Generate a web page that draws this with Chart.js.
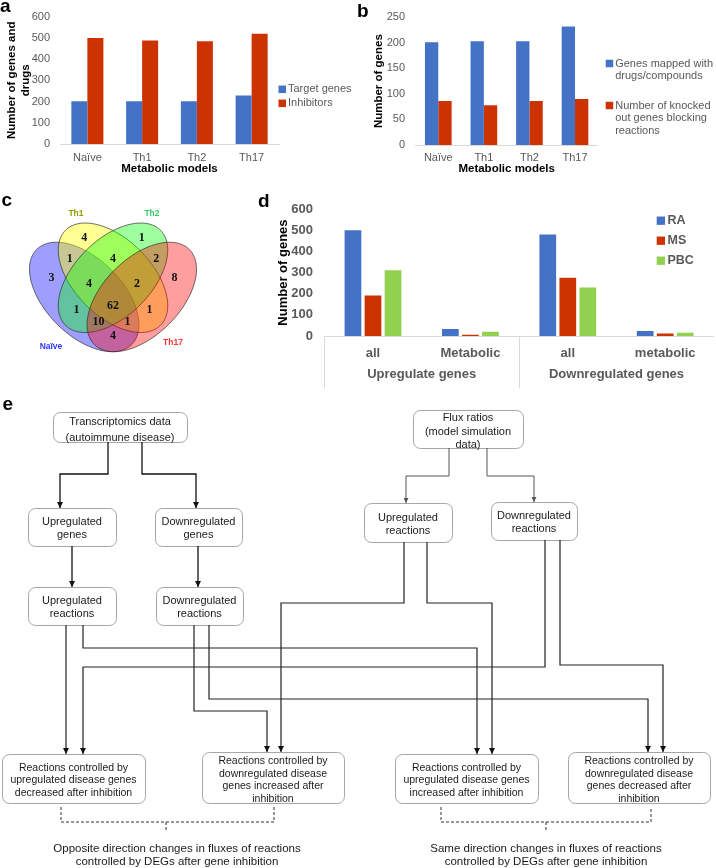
<!DOCTYPE html>
<html>
<head>
<meta charset="utf-8">
<script src="https://cdn.jsdelivr.net/npm/chart.js@4.4.1/dist/chart.umd.min.js"></script>
<style>
  html, body { margin: 0; padding: 0; background: #fff; }
  body { width: 716px; height: 868px; position: relative; overflow: hidden; font-family: Arial, 'Liberation Sans', sans-serif; }
  .pane { position: absolute; }
  .pane canvas { display: block; }
  #fig { position: absolute; left: 0; top: 0; pointer-events: none; }
</style>
</head>
<body>
<div class="pane" style="left:0;top:0"><canvas id="chA" width="360" height="185"></canvas></div>
<div class="pane" style="left:355px;top:0"><canvas id="chB" width="361" height="185"></canvas></div>
<div class="pane" style="left:0;top:190px"><canvas id="chC" width="235" height="180"></canvas></div>
<div class="pane" style="left:235px;top:190px"><canvas id="chD" width="481" height="202"></canvas></div>
<svg id="fig" width="716" height="868" xmlns="http://www.w3.org/2000/svg">
  <defs>
    <marker id="arK" viewBox="0 0 10 10" refX="10" refY="5" markerUnits="userSpaceOnUse" markerWidth="6" markerHeight="6" orient="auto">
      <path d="M0,0 L10,5 L0,10 z" fill="#111"/>
    </marker>
    <marker id="arG" viewBox="0 0 10 10" refX="10" refY="5" markerUnits="userSpaceOnUse" markerWidth="5" markerHeight="5" orient="auto">
      <path d="M0,0 L10,5 L0,10 z" fill="#555"/>
    </marker>
  </defs>
</svg>
<script>
// ---- data ----
const models = ['Naïve', 'Th1', 'Th2', 'Th17'];
const targetGenes = [201, 201, 201, 228];
const inhibitors = [499, 487, 484, 519];
const mappedGenes = [201, 203, 203, 232];
const knockedOut = [86, 78, 86, 90];

const degTypes = ['all', 'Metabolic', 'all', 'metabolic'];
const degGroups = ['Upregulate genes', 'Downregulated genes'];
const raGenes = [500, 33, 480, 24];
const msGenes = [191, 6, 276, 12];
const pbcGenes = [311, 20, 229, 15];

const vennSets = ['Naïve', 'Th1', 'Th2', 'Th17'];
const vennSetX = [0.177, 0.307, 0.703, 0.8125];
const vennSetY = [0.209, 0.902, 0.902, 0.23];
const vennCounts = [4, 1, 1, 4, 2, 3, 4, 2, 8, 62, 1, 1, 10, 1, 4];
const vennX = [0.35, 0.65, 0.275, 0.5, 0.725, 0.18, 0.375, 0.625, 0.82, 0.5, 0.31, 0.69, 0.425, 0.575, 0.5];
const vennY = [0.78, 0.78, 0.67, 0.67, 0.67, 0.57, 0.54, 0.54, 0.57, 0.425, 0.40, 0.40, 0.34, 0.34, 0.265];

const BLUE = '#4472c4', RED = '#cc3300', GREEN = '#92d050', GREY = '#595959';
const FONT = "Arial, 'Liberation Sans', sans-serif";
Chart.defaults.font.family = FONT;
Chart.defaults.animation = false;

/* legend squares + (multi-line) labels at fixed spots, like the Excel originals */
const boxLegend = {
  id: 'boxLegend',
  afterDraw(chart, args, o) {
    const ctx = chart.ctx;
    ctx.save();
    ctx.font = o.font;
    ctx.textBaseline = 'middle';
    chart.data.datasets.forEach((ds, i) => {
      ctx.fillStyle = ds.backgroundColor;
      ctx.fillRect(o.x, o.y[i] - o.box / 2, o.box, o.box);
      ctx.fillStyle = o.color;
      [].concat(ds.label).forEach((t, j) => ctx.fillText(t, o.x + o.box + o.gap, o.y[i] + j * o.lineGap));
    });
    ctx.restore();
  }
};

const f = (size, bold) => ({ size, weight: bold ? 'bold' : 'normal', family: FONT });

// ---- a ----
new Chart(document.getElementById('chA'), {
  type: 'bar',
  data: { labels: models, datasets: [
    { label: 'Target genes', data: targetGenes, backgroundColor: BLUE },
    { label: 'Inhibitors', data: inhibitors, backgroundColor: RED }
  ]},
  options: {
    responsive: false, events: [],
    layout: { padding: { top: 15, right: 81, bottom: 9.1, left: 0 } },
    datasets: { bar: { categoryPercentage: 0.585, barPercentage: 1 } },
    plugins: { legend: { display: false }, tooltip: { enabled: false },
      boxLegend: { x: 278.5, y: [89.3, 103.3], box: 7.5, gap: 2, lineGap: 13, font: '11px ' + FONT, color: GREY } },
    scales: {
      x: { grid: { display: false, drawTicks: false }, border: { color: '#d9d9d9' },
        ticks: { font: f(11), color: GREY, padding: 7.4, maxRotation: 0 },
        title: { display: true, text: 'Metabolic models', font: f(11.5, true), color: '#000', padding: 0 },
        afterFit: s => { s.height = 31.9; } },
      y: { min: 0, max: 600, grid: { display: false, drawTicks: false }, border: { display: false },
        ticks: { stepSize: 100, font: f(11), color: GREY, padding: 10 },
        title: { display: true, text: ['Number of genes and', 'drugs'], font: f(11.5, true), color: '#000', padding: { top: 5.1, bottom: 0 } },
        afterFit: s => { s.width = 60; } }
    }
  },
  plugins: [boxLegend]
});

// ---- b ----
new Chart(document.getElementById('chB'), {
  type: 'bar',
  data: { labels: models, datasets: [
    { label: ['Genes mapped with', 'drugs/compounds'], data: mappedGenes, backgroundColor: BLUE },
    { label: ['Number of knocked', 'out genes blocking', 'reactions'], data: knockedOut, backgroundColor: RED }
  ]},
  options: {
    responsive: false, events: [],
    layout: { padding: { top: 17.3, right: 118.2, bottom: 9.1, left: 0 } },
    datasets: { bar: { categoryPercentage: 0.585, barPercentage: 1 } },
    plugins: { legend: { display: false }, tooltip: { enabled: false },
      boxLegend: { x: 250.7, y: [63.5, 105.5], box: 7.5, gap: 2, lineGap: 12.8, font: '11px ' + FONT, color: GREY } },
    scales: {
      x: { grid: { display: false, drawTicks: false }, border: { color: '#d9d9d9' },
        ticks: { font: f(11), color: GREY, padding: 6.4, maxRotation: 0 },
        title: { display: true, text: 'Metabolic models', font: f(11.5, true), color: '#000', padding: 0 },
        afterFit: s => { s.height = 30.9; } },
      y: { min: 0, max: 250, grid: { display: false, drawTicks: false }, border: { display: false },
        ticks: { stepSize: 50, font: f(11), color: GREY, padding: 10.5 },
        title: { display: true, text: 'Number of genes', font: f(11.5, true), color: '#000', padding: { top: 16.6, bottom: 0 } },
        afterFit: s => { s.width = 60.5; } }
    }
  },
  plugins: [boxLegend]
});

// ---- c (Venn) ----
const vennPlugin = {
  id: 'venn',
  beforeDatasetsDraw(chart, args, o) {
    const { ctx, scales: { x, y } } = chart;
    ctx.save();
    o.ellipses.forEach(e => {
      const r = e.rot * Math.PI / 180;
      ctx.beginPath();
      for (let k = 0; k <= 180; k++) {
        const t = k / 180 * Math.PI * 2;
        const u = Math.cos(t) * o.a, v = Math.sin(t) * o.b;
        const px = x.getPixelForValue(e.cx + u * Math.cos(r) - v * Math.sin(r));
        const py = y.getPixelForValue(e.cy + u * Math.sin(r) + v * Math.cos(r));
        if (k) ctx.lineTo(px, py); else ctx.moveTo(px, py);
      }
      ctx.closePath();
      ctx.fillStyle = e.fill;
      ctx.fill();
      ctx.lineWidth = 0.8;
      ctx.strokeStyle = 'rgba(40,40,40,0.85)';
      ctx.stroke();
    });
    ctx.restore();
  },
  afterDatasetsDraw(chart) {
    const ctx = chart.ctx;
    ctx.save();
    ctx.textAlign = 'center';
    ctx.textBaseline = 'middle';
    chart.data.datasets.forEach((ds, i) => {
      chart.getDatasetMeta(i).data.forEach((pt, j) => {
        ctx.font = ds.textFont;
        ctx.fillStyle = Array.isArray(ds.textColor) ? ds.textColor[j] : ds.textColor;
        ctx.fillText(ds.texts[j], pt.x, pt.y);
      });
    });
    ctx.restore();
  }
};

new Chart(document.getElementById('chC'), {
  type: 'scatter',
  data: { datasets: [
    { data: vennCounts.map((v, i) => ({ x: vennX[i], y: vennY[i] })), texts: vennCounts,
      textFont: "bold 12px 'Times New Roman', 'Liberation Serif', serif", textColor: '#111', pointRadius: 0 },
    { data: vennSets.map((s, i) => ({ x: vennSetX[i], y: vennSetY[i] })), texts: vennSets,
      textFont: 'bold 8.5px ' + FONT, textColor: ['#3333ff', '#999900', '#33cc66', '#ff3333'], pointRadius: 0 }
  ]},
  options: {
    responsive: false, events: [],
    layout: { padding: { top: 5.2, right: 26, bottom: 2, left: 17 } },
    plugins: { legend: { display: false }, tooltip: { enabled: false },
      venn: { a: 0.35, b: 0.2, ellipses: [
        { cx: 0.35, cy: 0.47, rot: 135, fill: 'rgba(0,0,255,0.38)' },
        { cx: 0.5, cy: 0.57, rot: 135, fill: 'rgba(255,255,0,0.42)' },
        { cx: 0.5, cy: 0.57, rot: 45, fill: 'rgba(0,255,0,0.38)' },
        { cx: 0.65, cy: 0.47, rot: 45, fill: 'rgba(255,0,0,0.38)' }
      ] } },
    scales: { x: { type: 'linear', min: 0, max: 1, display: false }, y: { min: 0.1, max: 1, display: false } }
  },
  plugins: [vennPlugin]
});

// ---- d ----
new Chart(document.getElementById('chD'), {
  type: 'bar',
  data: { labels: degTypes, datasets: [
    { label: 'RA', data: raGenes, backgroundColor: BLUE },
    { label: 'MS', data: msGenes, backgroundColor: RED },
    { label: 'PBC', data: pbcGenes, backgroundColor: GREEN }
  ]},
  options: {
    responsive: false, events: [],
    layout: { padding: { top: 14, right: 2.1, bottom: 4, left: 0 } },
    datasets: { bar: { categoryPercentage: 0.617, barPercentage: 0.835 } },
    plugins: { legend: { display: false }, tooltip: { enabled: false },
      boxLegend: { x: 421.7, y: [30.7, 50.7, 70.7], box: 8.3, gap: 2.5, lineGap: 15, font: 'bold 12.5px ' + FONT, color: GREY } },
    scales: {
      x: { offset: true, weight: 0,
        grid: { offset: true, drawOnChartArea: false, tickLength: 52, lineWidth: 1,
          color: c => (c.index % 2 === 0 ? '#d9d9d9' : 'rgba(0,0,0,0)') },
        border: { color: '#d9d9d9' },
        ticks: { font: f(13, true), color: GREY, padding: -42.8, maxRotation: 0 },
        afterFit: s => { s.height = 28; } },
      x2: { type: 'category', labels: degGroups, position: 'bottom', offset: true, weight: 1,
        grid: { display: false, drawTicks: false }, border: { display: false },
        ticks: { font: f(13, true), color: GREY, padding: 2.2, maxRotation: 0 },
        afterFit: s => { s.height = 24; } },
      y: { min: 0, max: 600, grid: { display: false, drawTicks: false }, border: { display: false },
        ticks: { stepSize: 100, font: f(13, true), color: GREY, padding: 11.3 },
        title: { display: true, text: 'Number of genes', font: f(13, true), color: '#000', padding: { top: 40.2, bottom: 0 } },
        afterFit: s => { s.width = 89.3; } }
    }
  },
  plugins: [boxLegend]
});

// ---- e (flow diagram, svg) ----
const NS = 'http://www.w3.org/2000/svg';
const svg = document.getElementById('fig');
function add(tag, attrs, text) {
  const n = document.createElementNS(NS, tag);
  for (const k in attrs) n.setAttribute(k, attrs[k]);
  if (text != null) n.textContent = text;
  svg.appendChild(n);
  return n;
}
function lines(cx, y0, lh, fs, arr, weight) {
  arr.forEach((t, i) => add('text', { x: cx, y: y0 + i * lh, 'font-size': fs, 'font-family': FONT, 'font-weight': weight || 'normal',
    'text-anchor': 'middle', 'dominant-baseline': 'central', fill: '#1a1a1a' }, t));
}

// panel letters
[['a', 0, 12], ['b', 357, 16.5], ['c', 1.5, 206], ['d', 258, 207], ['e', 2.5, 410]].forEach(([t, x, y]) =>
  add('text', { x, y, 'font-size': 19, 'font-weight': 'bold', 'font-family': FONT, fill: '#000' }, t));

const flowBoxes = [
  { x: 53, y: 412, w: 134, h: 30, ty: 420.5, lh: 16.5, fs: 11, text: ['Transcriptomics data', '(autoimmune disease)'] },
  { x: 28, y: 508, w: 88, h: 38, ty: 520.7, lh: 13.6, fs: 11, text: ['Upregulated', 'genes'] },
  { x: 155, y: 508, w: 87, h: 38, ty: 520.7, lh: 13.6, fs: 11, text: ['Downregulated', 'genes'] },
  { x: 28, y: 587, w: 88, h: 38, ty: 600, lh: 13.4, fs: 11, text: ['Upregulated', 'reactions'] },
  { x: 156, y: 587, w: 87, h: 38, ty: 600, lh: 13.4, fs: 11, text: ['Downregulated', 'reactions'] },
  { x: 413, y: 410, w: 110, h: 38, ty: 417, lh: 13.5, fs: 11, text: ['Flux ratios', '(model simulation', 'data)'] },
  { x: 364, y: 503, w: 88, h: 39, ty: 516.7, lh: 13.4, fs: 11, text: ['Upregulated', 'reactions'] },
  { x: 491, y: 502, w: 86, h: 38, ty: 514.5, lh: 13.8, fs: 11, text: ['Downregulated', 'reactions'] },
  { x: 2, y: 754, w: 143, h: 49, ty: 766.7, lh: 12.5, fs: 10.5, text: ['Reactions controlled by', 'upregulated disease genes', 'decreased after inhibition'] },
  { x: 202, y: 752, w: 142, h: 51, ty: 760, lh: 12.7, fs: 10.5, text: ['Reactions controlled by', 'downregulated disease', 'genes increased after', 'inhibition'] },
  { x: 395, y: 754, w: 143, h: 49, ty: 766.7, lh: 12.5, fs: 10.5, text: ['Reactions controlled by', 'upregulated disease genes', 'increased after inhibition'] },
  { x: 568, y: 752, w: 142, h: 51, ty: 760, lh: 12.7, fs: 10.5, text: ['Reactions controlled by', 'downregulated disease', 'genes decreased after', 'inhibition'] }
];
flowBoxes.forEach(b => {
  add('rect', { x: b.x + 0.5, y: b.y + 0.5, width: b.w, height: b.h, rx: 7, fill: '#fff', stroke: '#a6a6a6', 'stroke-width': 1 });
  lines(b.x + b.w / 2, b.ty, b.lh, b.fs, b.text);
});

const links = [
  // transcriptomics side
  ['M108,442 V474 H60 V508', '#111', 1.3, 'arK'],
  ['M142,442 V474 H196 V508', '#111', 1.3, 'arK'],
  ['M72,546 V587', '#111', 1.3, 'arK'],
  ['M198,546 V587', '#111', 1.3, 'arK'],
  // flux side
  ['M449,448 V476 H406 V503', '#555', 1, 'arG'],
  ['M487,448 V476 H534 V502', '#555', 1, 'arG'],
  // cross links into the four outcome boxes
  ['M66,625 V754', '#222', 1.2, 'arK'],
  ['M83,625 V648 H477 V754', '#222', 1.2, 'arK'],
  ['M194,625 V711 H267 V752', '#222', 1.2, 'arK'],
  ['M209,625 V699 H648 V752', '#222', 1.2, 'arK'],
  ['M404,542 V603 H281 V752', '#222', 1.2, 'arK'],
  ['M427,542 V603 H492 V754', '#222', 1.2, 'arK'],
  ['M545,540 V667 H83 V754', '#222', 1.2, 'arK'],
  ['M560,540 V665 H663 V752', '#222', 1.2, 'arK']
];
links.forEach(([d, c, w, m]) => add('path', { d, fill: 'none', stroke: c, 'stroke-width': w, 'marker-end': `url(#${m})` }));

// dashed braces + captions
[[61, 274, 166], [441, 651, 546]].forEach(([x1, x2, xm]) => {
  add('path', { d: `M${x1},807 V822 H${x2} V807 M${xm},822 V831`, fill: 'none', stroke: '#333', 'stroke-width': 1, 'stroke-dasharray': '3 2' });
});
lines(177, 848, 12.8, 11.5, ['Opposite direction changes in fluxes of reactions', 'controlled by DEGs after gene inhibition']);
lines(546, 848, 12.8, 11.5, ['Same direction changes in fluxes of reactions', 'controlled by DEGs after gene inhibition']);
</script>
</body>
</html>
